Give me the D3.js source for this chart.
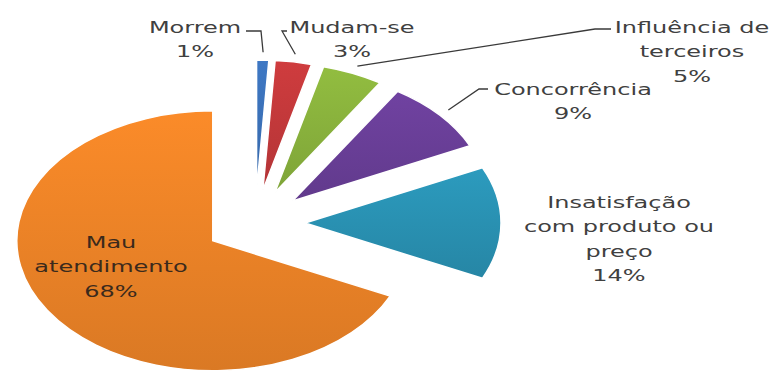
<!DOCTYPE html>
<html>
<head>
<meta charset="utf-8">
<title>pie</title>
<style>
    body { margin: 0; background: #fff; }
    .label text { font-family: "DejaVu Sans", sans-serif; font-size: 16px; fill: #404040; }
    .leader { fill: none; stroke: #3a3a3a; stroke-width: 1.3px; }
</style>
</head>
<body>
<script src="https://cdn.jsdelivr.net/npm/d3@7"></script>
<script>
    // data
    var categories = ["Morrem", "Mudam-se", "Influência de terceiros", "Concorrência",
        "Insatisfação com produto ou preço", "Mau atendimento"];
    var values = [1, 3, 5, 9, 14, 68];
    var percentLabels = ["1%", "3%", "5%", "9%", "14%", "68%"];
    var labelLines = [["Morrem"], ["Mudam-se"], ["Influência de", "terceiros"], ["Concorrência"],
        ["Insatisfação", "com produto ou", "preço"], ["Mau", "atendimento"]];
    var colors = ["#3b72ba", "#c4393b", "#8ab33d", "#6a3f99", "#2a93b4", "#ee8427"];

    // layout
    var width = 779, height = 374;
    var cx = 255, cy = 223, rx = 196, squash = 0.663, explode = 50;
    var stretch = 1.5, lineGap = 24.5;
    // label block centre x and first baseline
    var labelPos = [[195, 33], [352, 33], [692, 33], [573, 95], [619, 208], [111, 248]];
    var labelColor = ["#404040", "#404040", "#404040", "#404040", "#404040", "#3b2a1c"];
    // leader: text side anchor, elbow (null = no leader)
    var leaders = [[[246, 31], [261, 31]], [[287, 31], [282, 31]], [[611, 29], [595, 29]],
        [[488, 89], [479, 89]], null, null];

    var svg = d3.select("body").append("svg")
        .attr("width", width)
        .attr("height", height);

    var defs = svg.append("defs");
    colors.forEach(function (c, i) {
        var g = defs.append("linearGradient")
            .attr("id", "grad" + i)
            .attr("x1", 0).attr("y1", 0).attr("x2", 0).attr("y2", 1);
        g.append("stop").attr("offset", "0%").attr("stop-color", d3.color(c).brighter(0.15));
        g.append("stop").attr("offset", "100%").attr("stop-color", d3.color(c).darker(0.25));
    });

    var pie = d3.pie().sort(null).value(function (d) { return d; });
    var arcs = pie(values);
    var arc = d3.arc().innerRadius(0).outerRadius(rx);

    function mid(d) { return (d.startAngle + d.endAngle) / 2; }
    function offset(d) {
        var a = mid(d);
        return [explode * Math.sin(a), -explode * Math.cos(a)];
    }
    // screen point of a slice at radius r along its mid angle
    function screenPoint(d, r) {
        var a = mid(d), o = offset(d);
        return [cx + o[0] + r * Math.sin(a), cy + (o[1] - r * Math.cos(a)) * squash];
    }

    var pieG = svg.append("g")
        .attr("transform", "translate(" + cx + "," + cy + ") scale(1," + squash + ")");

    pieG.selectAll("path.slice")
        .data(arcs)
        .enter().append("path")
        .attr("class", "slice")
        .attr("transform", function (d) {
            var o = offset(d);
            return "translate(" + o[0] + "," + o[1] + ")";
        })
        .attr("d", arc)
        .style("fill", function (d, i) { return "url(#grad" + i + ")"; })
        .style("stroke", "#fff")
        .style("stroke-width", 1.5)
        .attr("vector-effect", "non-scaling-stroke");

    // leader lines
    arcs.forEach(function (d, i) {
        if (!leaders[i]) return;
        var p = screenPoint(d, rx * 1.06);
        var pts = [leaders[i][0], leaders[i][1], p];
        svg.append("path")
            .attr("class", "leader")
            .attr("d", d3.line()(pts));
    });

    // labels
    var label = svg.selectAll("g.label")
        .data(arcs)
        .enter().append("g")
        .attr("class", "label")
        .attr("transform", function (d, i) {
            return "translate(" + labelPos[i][0] + "," + labelPos[i][1] + ") scale(" + stretch + ",1)";
        });

    label.each(function (d, i) {
        var lines = labelLines[i].concat([percentLabels[i]]);
        var t = d3.select(this).append("text")
            .attr("text-anchor", "middle")
            .style("fill", labelColor[i]);
        lines.forEach(function (s, k) {
            t.append("tspan").attr("x", 0).attr("y", k * lineGap).text(s);
        });
    });
</script>
</body>
</html>
